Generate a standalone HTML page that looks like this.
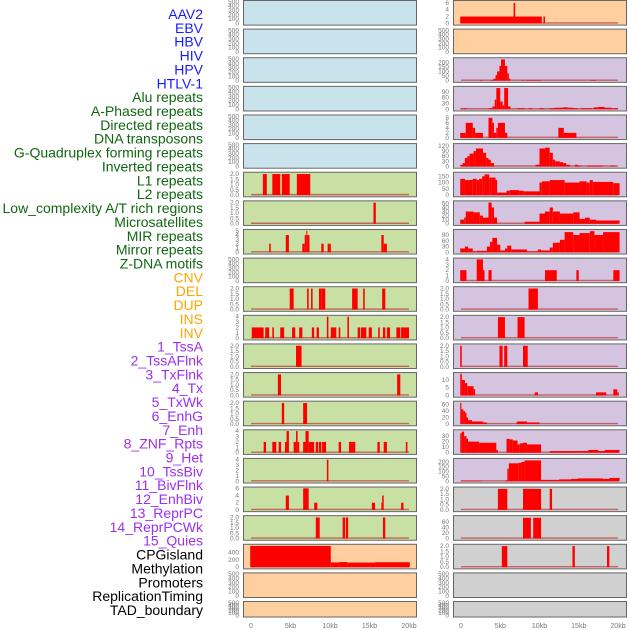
<!DOCTYPE html>
<html><head><meta charset="utf-8"><style>
html,body{margin:0;padding:0;background:#fff;}
svg{display:block;font-family:"Liberation Sans",sans-serif;}
</style></head><body>
<svg id="chart" width="630" height="630" viewBox="0 0 630 630"></svg>
<script>
const labels = ["AAV2","EBV","HBV","HIV","HPV","HTLV-1","Alu repeats","A-Phased repeats","Directed repeats","DNA transposons","G-Quadruplex forming repeats","Inverted repeats","L1 repeats","L2 repeats","Low_complexity A/T rich regions","Microsatellites","MIR repeats","Mirror repeats","Z-DNA motifs","CNV","DEL","DUP","INS","INV","1_TssA","2_TssAFlnk","3_TxFlnk","4_Tx","5_TxWk","6_EnhG","7_Enh","8_ZNF_Rpts","9_Het","10_TssBiv","11_BivFlnk","12_EnhBiv","13_ReprPC","14_ReprPCWk","15_Quies","CPGisland","Methylation","Promoters","ReplicationTiming","TAD_boundary"];
const labelGroups = [0,0,0,0,0,0,1,1,1,1,1,1,1,1,1,1,1,1,1,2,2,2,2,2,3,3,3,3,3,3,3,3,3,3,3,3,3,3,3,4,4,4,4,4];
const groupColors = ["#1a1aff","#116611","#ffa500","#9b30f0","#000000"];
const xTicks = [0,5,10,15,20];
const xTickLabels = ["0","5kb","10kb","15kb","20kb"];

const T500=[0,100,200,300,400,500], T2=[0,0.5,1,1.5,2];
// each panel: bg, ymax, ticks, segments [startKb,endKb,value]
const leftBg = ["b","b","b","b","b","b","g","g","g","g","g","g","g","g","g","g","g","g","g","o","o","o"];
const rightBg = ["o","o","p","p","p","p","p","p","p","p","p","p","p","p","p","p","p","y","y","y","y","y"];
const leftMax = [500,500,500,500,500,500,2.05,2.05,5,500,2.05,4,2.05,2.05,2.05,4,4,6,2.05,590,500,500];
const rightMax = [6.3,500,235,112,8.6,126,172,53,112,4,2.05,2.05,2.05,14,66,39,222,2.05,78,2.05,500,500];
const leftTicks = [T500,T500,T500,T500,T500,T500,T2,T2,[0,1,2,3,4,5],T500,T2,[0,1,2,3,4],T2,T2,T2,[0,1,2,3,4],[0,1,2,3,4],[0,2,4,6],T2,[0,200,400],T500,T500];
const rightTicks = [[0,2,4,6],T500,[0,50,100,150,200],[0,30,60,90],[0,2,4,6,8],[0,30,60,90,120],[0,50,100,150],[0,10,20,30,40,50],[0,30,60,90],[0,1,2,3,4],T2,T2,T2,[0,5,10],[0,20,40,60],[0,10,20,30],[0,50,100,150,200],T2,[0,20,40,60],T2,T500,T500];

const L7=[[1.5,2.0,2],[2.7,3.7,2],[3.9,4.9,2],[5.8,7.5,2]];
const L8=[[15.5,15.8,2]];
const L9=[[2.3,2.5,2],[4.4,4.8,4],[6.5,6.8,2],[6.8,7.0,4],[7.0,7.1,5],[7.1,7.4,4],[8.9,9.2,2],[9.7,10.1,2],[16.5,16.8,4],[16.8,17.2,2]];
const L11=[[4.9,5.4,2],[7.1,7.3,2],[7.6,7.8,2],[8.6,8.9,2],[8.9,9.4,2],[12.8,13.5,2],[14.2,14.4,2],[16.6,17.0,2]];
const L12=[[0.1,1.6,2],[1.8,2.3,2],[2.7,2.9,2],[3.7,4.2,2],[5.2,5.6,2],[6.1,6.5,2],[7.7,8.0,2],[8.3,8.6,2],[9.6,9.8,4],[10.1,10.8,2],[11.1,11.3,2],[12.2,12.4,4],[13.5,13.8,2],[13.9,14.6,2],[14.9,15.3,2],[16.1,16.3,2],[16.7,17.0,2],[17.2,17.6,2],[18.4,18.9,2],[19.0,20.0,2]];
const L13=[[5.7,6.4,2]];
const L14=[[3.4,3.8,2],[18.5,18.9,2]];
const L15=[[3.9,4.2,2],[6.6,7.1,2]];
const L16=[[1.6,1.9,2],[2.7,3.2,2],[3.5,3.8,2],[4.3,4.5,2],[4.5,4.8,4],[5.4,5.7,2],[5.7,5.9,4],[5.9,6.1,2],[6.6,6.9,2],[6.9,7.3,4],[7.3,8.0,2],[8.2,8.5,2],[8.6,8.9,2],[9.0,9.5,2],[11.1,11.4,2],[12.4,13.2,2],[16.0,16.3,2],[16.8,17.2,2],[19.6,19.8,2]];
const L17=[[9.6,9.8,4]];
const L18=[[4.4,4.8,4],[6.6,7.3,6],[8.0,8.4,2],[15.3,15.7,2],[16.5,16.6,2],[16.6,16.8,4],[19.0,19.3,2]];
const L19=[[8.2,8.7,2],[11.6,11.9,2],[12.0,12.3,2],[16.7,17.0,2]];
const L20=[[-0.1,10.1,580],[10.1,11.2,130],[11.2,12.2,140],[12.2,15.7,125],[15.7,20.1,135]];
const leftSeries=[null,null,null,null,null,null,L7,L8,L9,null,L11,L12,L13,L14,L15,L16,L17,L18,L19,L20,null,null];

const R1=[[-0.1,10.3,2],[6.7,6.9,6],[10.5,10.7,2]];
const R3=[[2.4,2.8,5],[3.7,4.1,5],[4.1,4.4,20],[4.4,4.6,60],[4.6,4.9,100],[4.9,5.1,160],[5.1,5.6,230],[5.6,5.9,160],[5.9,6.1,80],[6.1,6.3,20],[7.7,8.1,5],[8.3,10.2,5],[16.5,17.2,5]];
const R4=[[-0.1,0.2,5],[0.3,0.7,5],[3.5,4.0,5],[4.0,4.3,15],[4.3,4.5,50],[4.5,5.0,110],[5.0,5.3,40],[5.3,5.5,20],[5.5,6.0,110],[6.0,6.3,15],[7.2,8.1,5],[8.6,9.1,5],[10.0,10.6,5],[11.3,11.9,5],[11.9,13.0,8],[13.0,13.6,10],[13.6,14.3,8],[14.3,14.9,5],[15.3,16.7,5],[16.9,17.5,10],[17.5,18.3,12],[18.3,19.2,8],[19.2,20.0,5]];
const R5=[[-0.1,0.6,2],[0.6,1.5,6],[1.5,1.8,4],[1.8,2.8,2],[3.5,4.0,8],[4.0,4.2,6],[4.2,4.5,2],[4.5,4.7,4],[4.7,5.6,6],[5.6,5.9,2],[12.4,13.1,4],[13.1,14.7,2]];
const R6=[[-0.1,0.2,10],[0.2,0.5,20],[0.5,0.8,50],[0.8,1.1,60],[1.1,1.6,75],[1.6,1.9,90],[1.9,2.8,105],[2.8,3.2,80],[3.2,3.5,50],[3.5,3.8,40],[3.8,4.2,20],[9.5,10.0,10],[10.0,10.7,105],[10.7,11.3,110],[11.3,11.7,80],[11.7,12.0,40],[12.0,12.6,30],[12.6,13.0,25],[13.0,13.4,20],[13.4,13.9,10],[14.5,14.9,10],[14.9,15.3,5],[16.1,18.1,5],[19.0,19.6,5]];
const R7=[[-0.1,0.5,130],[0.5,1.5,120],[1.5,2.0,130],[2.0,2.3,120],[2.3,2.7,130],[2.7,3.0,150],[3.0,3.6,165],[3.6,3.9,140],[3.9,4.4,140],[4.4,4.6,120],[4.6,5.8,20],[5.8,6.2,35],[6.2,7.4,40],[7.4,8.0,35],[8.0,10.0,30],[10.0,10.3,100],[10.3,11.3,110],[11.3,13.2,120],[13.2,15.1,100],[15.1,16.0,110],[16.0,16.4,100],[16.4,16.8,120],[16.8,19.4,105],[19.4,20.2,95]];
const R8=[[-0.1,0.4,10],[0.4,0.6,15],[0.6,1.6,30],[1.6,2.4,28],[2.4,2.8,20],[2.8,3.5,15],[3.5,3.9,52],[3.9,4.2,40],[4.2,4.6,15],[8.1,10.0,5],[10.0,10.7,25],[10.7,11.3,30],[11.3,11.7,40],[11.7,12.6,30],[12.6,14.3,25],[14.3,15.1,28],[15.1,15.8,12],[15.8,16.4,15],[16.4,17.2,10],[17.2,20.2,8]];
const R9=[[-0.1,0.5,20],[0.5,0.9,30],[0.9,1.5,20],[1.5,2.0,5],[2.0,3.3,8],[3.3,3.7,30],[3.7,4.0,55],[4.0,4.6,75],[4.6,5.0,40],[5.0,5.6,10],[5.6,5.9,20],[5.9,6.4,35],[6.4,8.4,15],[8.4,9.8,5],[9.8,10.2,15],[10.2,11.3,10],[11.3,11.7,25],[11.7,12.6,50],[12.6,13.2,65],[13.2,14.3,105],[14.3,15.1,90],[15.1,16.4,100],[16.4,17.0,110],[17.0,18.1,90],[18.1,20.2,105]];
const R10=[[-0.1,0.7,2],[2.0,2.8,4],[2.8,3.0,2],[3.5,3.9,2],[10.7,12.2,2],[14.7,15.0,2],[19.4,20.2,2]];
const R11=[[8.6,9.8,2]];
const R12=[[4.7,5.6,2],[7.2,8.1,2]];
const R13=[[-0.1,0.1,2],[4.9,5.3,2],[5.5,5.9,2],[7.9,8.5,2]];
const R14=[[-0.1,0.1,14],[0.1,0.5,10],[0.5,0.8,8],[0.8,1.6,6],[1.6,1.8,4],[9.4,9.8,2],[17.2,18.5,2],[19.4,19.9,4],[19.9,20.1,2]];
const R15=[[-0.1,0.05,65],[0.05,0.3,45],[0.3,0.5,40],[0.5,0.7,35],[0.7,0.9,20],[0.9,1.4,12],[1.4,2.8,8],[2.8,3.3,5],[7.1,8.4,8],[8.4,10.0,5]];
const R16=[[-0.1,0.1,35],[0.1,0.4,38],[0.4,0.7,30],[0.7,0.9,25],[0.9,2.3,20],[2.3,4.5,18],[4.5,4.7,5],[5.8,6.2,25],[6.2,6.6,24],[6.6,7.2,22],[7.2,7.5,15],[7.5,7.9,17],[7.9,8.4,18],[8.4,10.2,15],[11.3,16.2,3],[16.2,17.5,5],[17.5,18.3,3],[18.3,20.2,5]];
const R17=[[-0.1,2.6,5],[5.7,5.9,10],[5.9,6.1,130],[6.1,7.3,185],[7.3,7.7,190],[7.7,8.1,200],[8.1,10.2,215],[10.2,12.5,15],[12.5,14.0,20],[14.0,14.9,25],[14.9,18.1,30],[18.1,18.9,25],[18.9,20.2,35]];
const R18=[[4.7,5.9,2],[7.9,10.2,2],[11.3,11.6,2]];
const R19=[[7.9,8.9,75],[9.2,10.2,75]];
const R20=[[5.2,5.9,2],[14.2,14.5,2],[18.6,18.9,2]];
const rightSeries=[R1,null,R3,R4,R5,R6,R7,R8,R9,R10,R11,R12,R13,R14,R15,R16,R17,R18,R19,R20,null,null];

const NS="http://www.w3.org/2000/svg";
const svg=document.getElementById("chart");
const bgColors={b:"#c8e3eb",g:"#c8e0a4",o:"#ffcfa0",p:"#d5c4e0",y:"#d0d0d0"};
function mk(tag,attrs,parent){const e=document.createElementNS(NS,tag);for(const k in attrs)e.setAttribute(k,attrs[k]);(parent||svg).appendChild(e);return e;}

// labels
labels.forEach((t,i)=>{
  const e=mk("text",{x:203,y:14+i*13.86+5,"text-anchor":"end","font-size":"14",fill:groupColors[labelGroups[i]]});
  e.textContent=t;
  
  
});

const cols=[{x0:243,x1:416,k0:251,k1:409,bg:leftBg,max:leftMax,ticks:leftTicks,ser:leftSeries,name:'left'},
            {x0:453,x1:626,k0:461,k1:618,bg:rightBg,max:rightMax,ticks:rightTicks,ser:rightSeries,name:'right'}];
function fmt(v,ticks){return (ticks===T2)?v.toFixed(1):String(v);}
cols.forEach(c=>{
  const xs=kb=>c.k0+(kb/20)*(c.k1-c.k0);
  for(let i=0;i<22;i++){
    const top=i*28.62, h=(i===21)?15.5:24.6;
    const g=mk("g",{});
    
    
    mk("rect",{x:c.x0+0.5,y:top+0.5,width:c.x1-c.x0,height:h,fill:bgColors[c.bg[i]],stroke:"#666","stroke-width":1},g);
    const yb=top+h-1.2, yt=top+1.8, ymax=c.max[i];
    const ys=v=>yb-(v/ymax)*(yb-yt);
    c.ticks[i].forEach(tv=>{
      const t=mk("text",{x:c.x0-4,y:ys(tv)+2,"text-anchor":"end","font-size":"6.5",fill:"#777"},g);
      t.textContent=fmt(tv,c.ticks[i]);
      
      
    });
    const s=c.ser[i];
    if(s){
      mk("line",{x1:xs(0),x2:xs(20),y1:yb-0.5,y2:yb-0.5,stroke:"#c04848","stroke-width":1.4,opacity:0.8},g);
      s.forEach(d=>{
        const r=mk("rect",{x:xs(d[0]),y:ys(d[2]),width:Math.max(1,xs(d[1])-xs(d[0])),height:yb-ys(d[2]),fill:"#ff0000"},g);
        
        
      });
    }
  }
  xTicks.forEach((v,j)=>{
    const t=mk("text",{x:xs(v),y:628,"text-anchor":"middle","font-size":"7",fill:"#777"});
    t.textContent=xTickLabels[j];
    
    
  });
});
</script>
</body></html>
